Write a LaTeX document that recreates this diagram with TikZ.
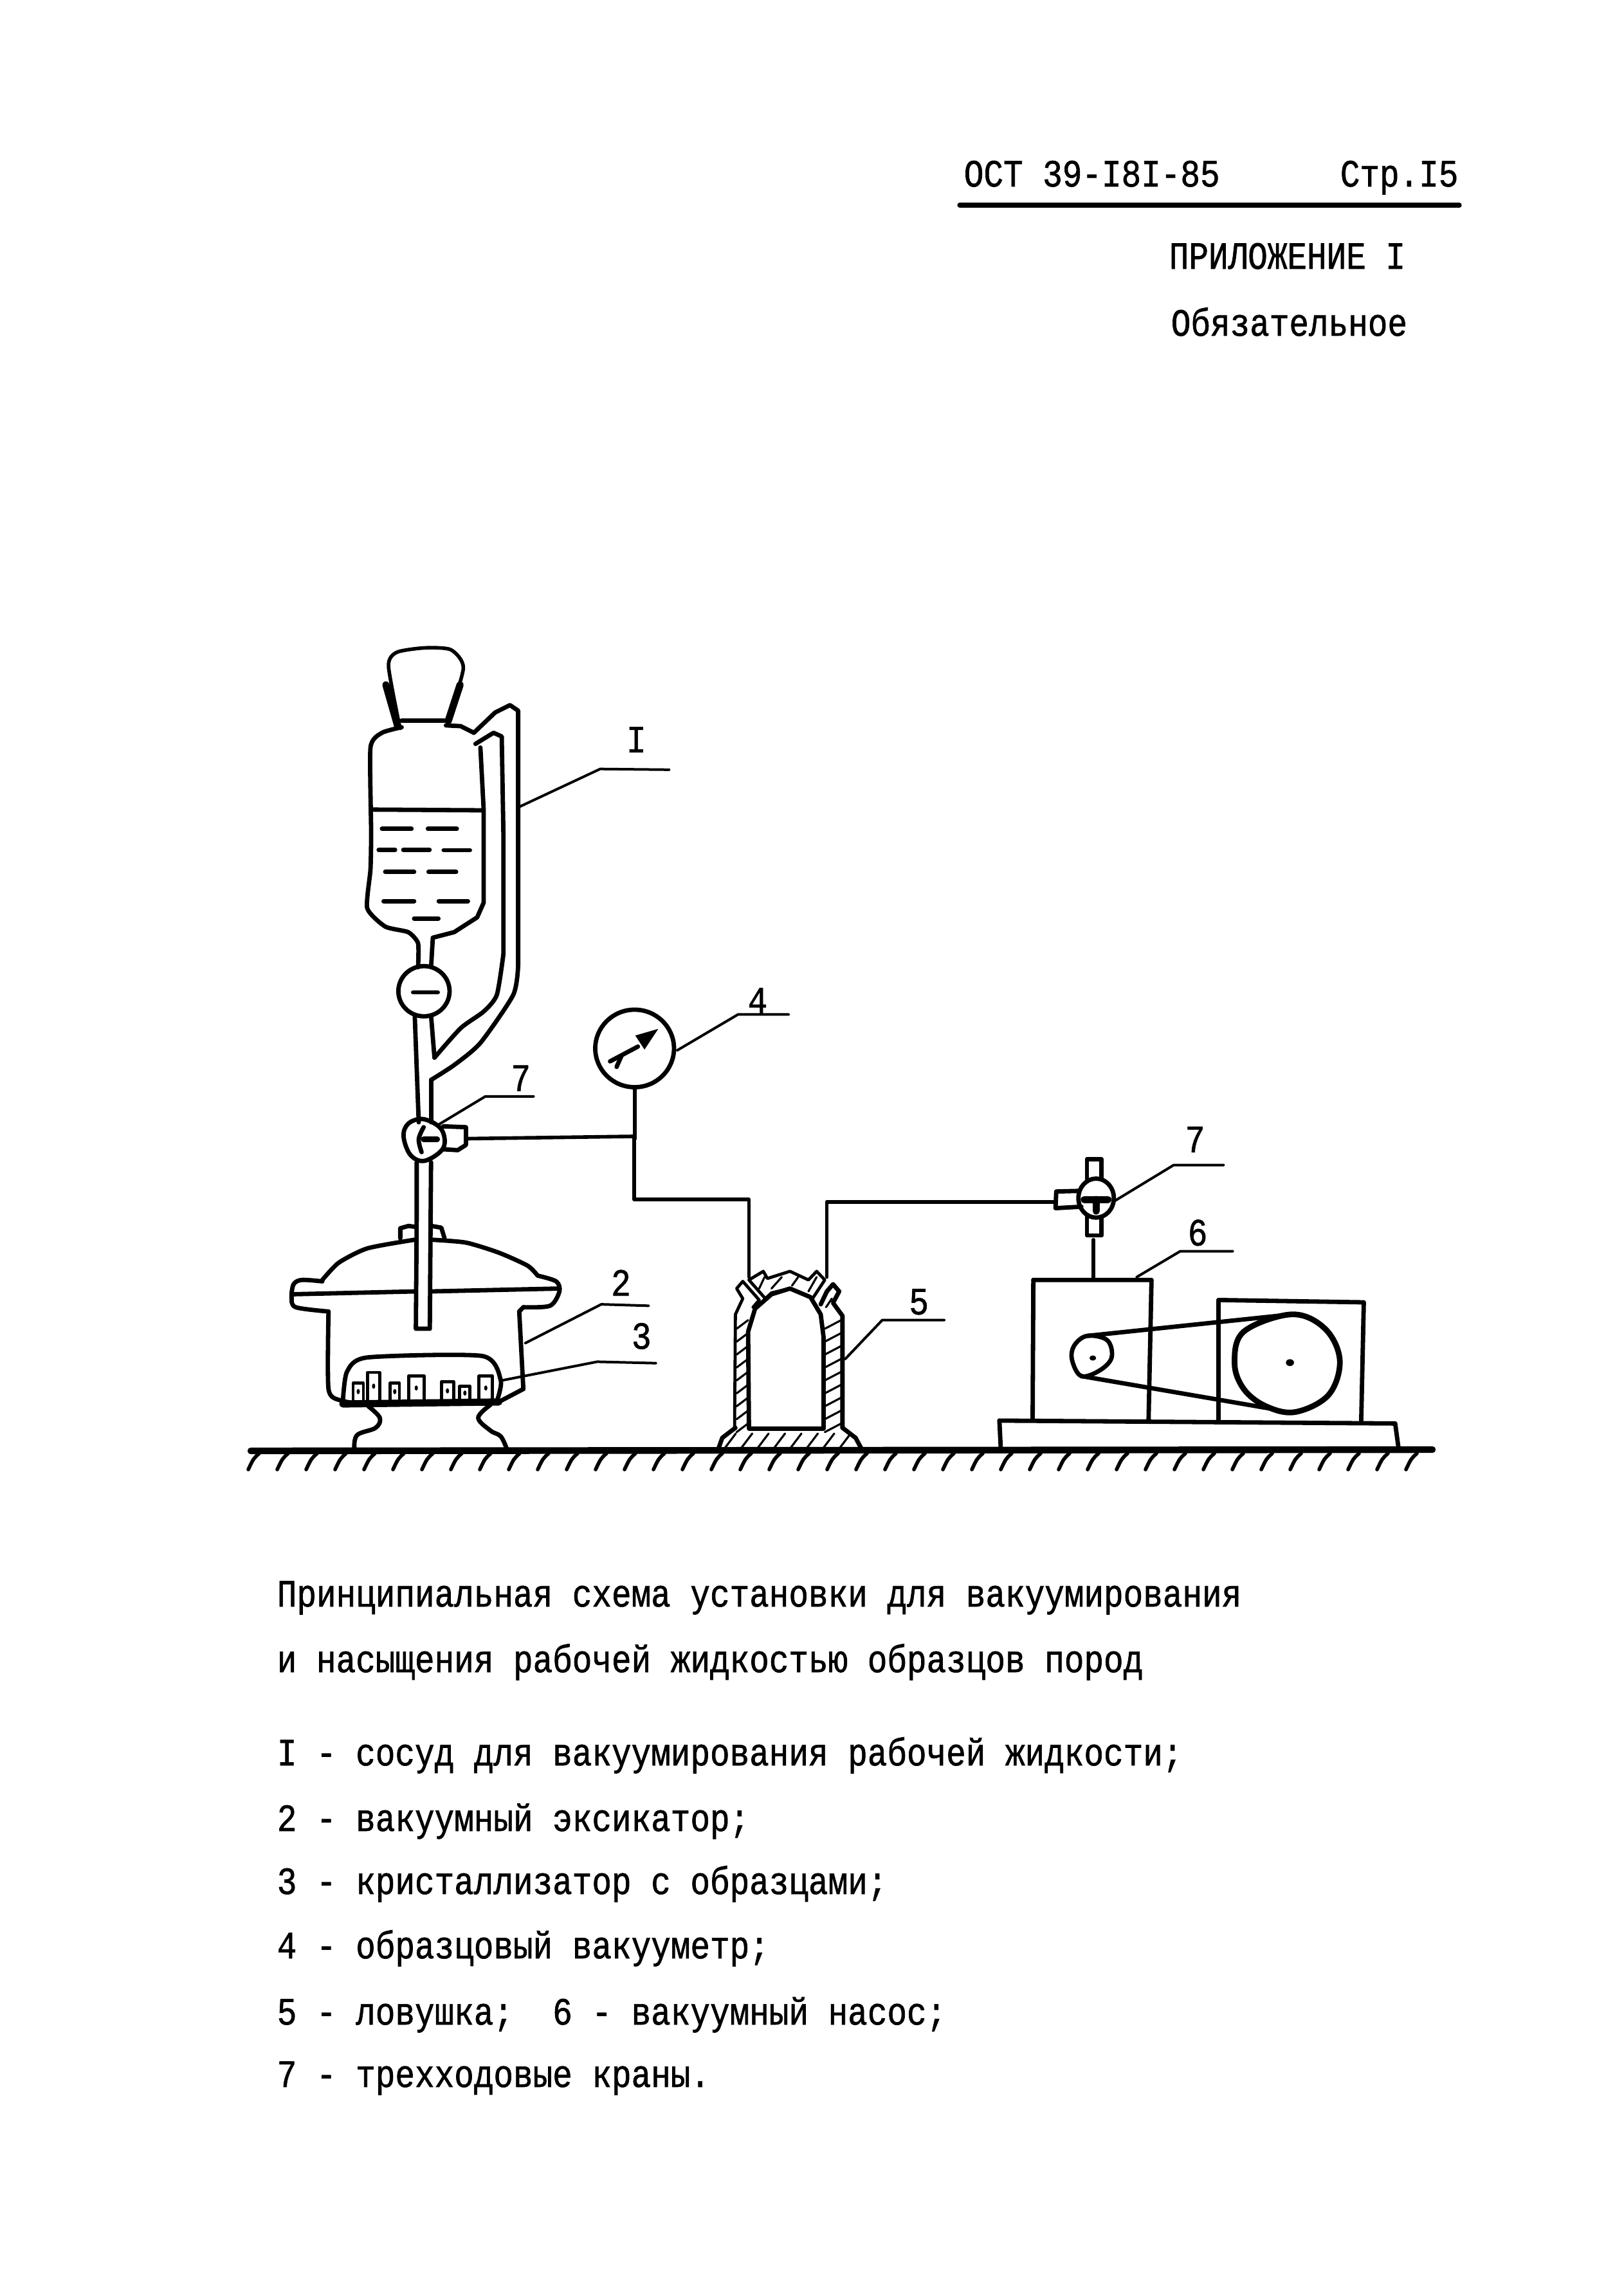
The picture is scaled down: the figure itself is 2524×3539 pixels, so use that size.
\documentclass[tikz,border=0pt]{standalone}
\usepackage{fontspec}
\newfontfamily\tw[FakeStretch=0.85,FakeBold=1.1]{Liberation Mono}
\tikzset{
 zA/.style={shift={(400,950)},x=0.12755pt,y=-0.14351pt},
 zB/.style={shift={(380,1700)},x=0.15944pt,y=-0.11161pt},
 zC/.style={shift={(1400,1700)},x=0.14351pt,y=-0.11161pt},
 pen/.style={draw=black,line width=1.7pt,line join=round,line cap=round},
 pipe/.style={pen,line width=1.4pt},
 lead/.style={pen,line width=1pt},
 hatchline/.style={pen,line width=0.8pt},
 heavy/.style={pen,line width=2.8pt},
 txt/.style={font=\tw\fontsize{15}{17}\selectfont,anchor=base west,inner sep=0pt,text=black},
 lab/.style={font=\tw\fontsize{15}{17}\selectfont,anchor=base,inner sep=0pt,text=black},
}
\begin{document}
\begin{tikzpicture}[x=0.25pt,y=-0.25pt]
\fill[white] (0,0) rectangle (2524,3539);
\useasboundingbox (0,0) rectangle (2524,3539);
% header
\node[txt] (h1) at (1498,290) {ОСТ 39-I8I-85};
\node[txt] (h2) at (2083,290) {Стр.I5};
\coordinate (rl) at (1492,319); \coordinate (rr) at (2269,319);
\draw[pen,line width=1.8pt] (rl) -- (rr);
\node[txt] (h3) at (1817,418) {ПРИЛОЖЕНИЕ I};
\node[txt] (h4) at (1820,522) {Обязательное};
% caption and legend
\node[txt] (c1) at (430,2498) {Принципиальная схема установки для вакуумирования};
\node[txt] (c2) at (430,2600) {и насыщения рабочей жидкостью образцов пород};
\node[txt] (l1) at (430,2745) {I - сосуд для вакуумирования рабочей жидкости;};
\node[txt] (l2) at (430,2847) {2 - вакуумный эксикатор;};
\node[txt] (l3) at (430,2945) {3 - кристаллизатор с образцами;};
\node[txt] (l4) at (430,3045) {4 - образцовый вакууметр;};
\node[txt] (l5) at (430,3148) {5 - ловушка;\ \ 6 - вакуумный насос;};
\node[txt] (l7) at (430,3245) {7 - трехходовые краны.};
% ground
\coordinate (gl) at (390,2256); \coordinate (gr) at (2227,2254);
\draw[pen,line width=2.6pt] (gl) -- (gr);
\foreach \x in {386,431,...,2220} \draw[pen,line width=1.4pt] (\x+17,2260) .. controls (\x+8,2268) .. (\x,2285);
% ---- vessel
\begin{scope}[zA]
\draw[pen,line width=1.4pt] plot[smooth,tension=.4] coordinates {(435,318)(400,150)(425,112)(510,100)(590,105)(628,155)(580,300)};
\draw[heavy] (392,200) -- (428,312);
\draw[heavy] (618,200) -- (582,298);
\draw[pen] (440,297) -- (570,297);
\draw[pen] plot[smooth,tension=.35] coordinates {(440,315)(380,330)(345,370)(347,600)(345,700)(335,805)(390,855)(460,870)(490,900)(490,965)};
\draw[pen] (575,310) -- (620,312) -- (660,330) -- (725,275) -- (770,255) -- (795,270) -- (795,960);
\draw[pen] plot[smooth,tension=.4] coordinates {(795,960)(780,1040)(680,1170)(600,1230)(530,1270)};
\draw[pen] (530,1270) -- (530,1385);
\draw[pen] (665,360) -- (720,330) -- (745,340) -- (750,600) -- (750,930);
\draw[pen] plot[smooth,tension=.4] coordinates {(750,930)(730,1040)(690,1085)(620,1130)(540,1210)};
\draw[pen] (540,1210) -- (530,1100);
\draw[pen] (680,370) -- (690,540) -- (690,790) -- (670,830) -- (600,870) -- (535,885) -- (530,960);
\draw[pen] (350,538) -- (685,540);
\foreach \a/\b/\y in {380/470/590,520/608/590,370/420/647,445/525/647,568/648/648,390/478/707,522/606/707,385/478/786,553/642/786,478/552/833}
  \draw[pen] (\a,\y) -- (\b,\y);
\draw[pen] (508,1030) ellipse [x radius=78,y radius=68];
\draw[pen] (475,1033) -- (550,1033);
\draw[pen] (480,1098) -- (492,1385);
\coordinate (j4) at (1150,1292);
\draw[pen] (1150,1185) ellipse [x radius=120,y radius=105];
\draw[pipe] (j4) -- (1150,1430);
\draw[pen] (1075,1220) -- (1160,1180);
\draw[pen] (1095,1235) -- (1110,1205);
\fill[black] (1222,1132) -- (1180,1188) -- (1152,1150) -- cycle;
% leaders
\node[lab] (nI) at (1155,383) {I};
\coordinate (nIa) at (800,530); \coordinate (nIb) at (1045,428); \coordinate (nIc) at (1255,430);
\draw[lead] (nIa) -- (nIb) -- (nIc);
\node[lab] (n4) at (1525,1090) {4};
\coordinate (n4a) at (1280,1190); \coordinate (n4b) at (1465,1093); \coordinate (n4c) at (1619,1093);
\draw[lead] (n4a) -- (n4b) -- (n4c);
\node[lab] (n7) at (803,1300) {7};
\coordinate (n7a) at (555,1390); \coordinate (n7b) at (695,1315); \coordinate (n7c) at (842,1315);
\draw[lead] (n7a) -- (n7b) -- (n7c);
\end{scope}
% ---- cock, desiccator, trap
\begin{scope}[zB]
\draw[pen] plot[smooth cycle,tension=.6] coordinates {(437,90)(480,125)(485,190)(440,235)(405,215)(388,150)(400,105)};
\draw[pen] (485,115) -- (540,118) -- (540,180) -- (520,198) -- (485,195);
\coordinate (p0) at (540,158); \coordinate (j1) at (950,150);
\draw[pipe] (p0) -- (j1);
\draw[pipe] (j1) -- (950,370) -- (1230,370) -- (1230,640);
\draw[pen] plot[smooth,tension=.6] coordinates {(437,118)(425,160)(432,205)};
\draw[pen,line width=2.2pt] (437,160) -- (470,160);
\draw[pen] (420,240) -- (420,440) -- (418,820) -- (452,820) -- (455,240);
\draw[pen] (380,505) -- (380,470) -- (400,462) -- (416,465);
\draw[pen] (456,462) -- (480,468) -- (488,505);
\draw[pen] plot[smooth,tension=.4] coordinates {(190,650)(230,590)(300,540)(415,510)};
\draw[pen] plot[smooth,tension=.4] coordinates {(456,510)(540,520)(620,555)(690,600)(715,635)};
\draw[pen] plot[smooth,tension=.5] coordinates {(190,655)(140,650)(120,665)(115,710)(125,745)(205,760)};
\draw[pen] plot[smooth,tension=.5] coordinates {(715,635)(760,655)(768,690)(745,740)(680,745)};
\draw[pen] (680,745) -- (670,760);
\draw[pen] (115,700) -- (418,690);
\draw[pen] (456,690) -- (768,680);
\draw[pen] plot[smooth,tension=.4] coordinates {(205,760)(205,1030)(235,1070)(300,1085)};
\draw[pen] (670,760) -- (680,1030);
\draw[heavy] (240,1082) -- (620,1075);
\draw[pen] (620,1075) -- (680,1030);
\draw[pen] plot[smooth,tension=.6] coordinates {(302,1090)(330,1130)(320,1165)(275,1190)(268,1235)};
\draw[pen] plot[smooth,tension=.6] coordinates {(600,1085)(570,1130)(600,1175)(625,1195)(640,1240)};
\draw[pen] plot[smooth,tension=.4] coordinates {(240,1075)(250,970)(300,920)(580,915)(625,1000)(615,1075)};
\foreach \a/\b/\t in {265/290/1010,300/330/972,355/378/1010,400/438/985,480/510/1005,525/550/1020,572/605/985}{
  \draw[pen,line width=1.2pt] (\a,1068) -- (\a,\t) -- (\b,\t) -- (\b,1068);
  \fill[black] ({(\a+\b)/2},{(\t+1068)/2}) circle [x radius=4,y radius=9];
}
% trap
\draw[pen] (1230,1168) -- (1228,830) -- (1245,750) -- (1285,700) -- (1330,680) -- (1380,710) -- (1405,770) -- (1412,850) -- (1412,1168) -- cycle;
\draw[pen,line width=1.2pt] (1195,1165) -- (1197,770) -- (1215,715) -- (1200,680) -- (1215,655) -- (1255,720) -- (1240,745);
\draw[pen] (1405,735) -- (1420,690) -- (1435,665) -- (1450,690) -- (1435,730) -- (1458,775) -- (1458,1165);
\draw[pen,line width=1.2pt] (1230,650) -- (1265,620) -- (1275,645) -- (1330,620) -- (1375,650) -- (1395,620) -- (1415,650) -- (1385,715) -- (1330,680) -- (1285,695) -- (1270,715) -- cycle;
\draw[pen] (1155,1240) -- (1165,1200) -- (1197,1165);
\draw[pen] (1458,1165) -- (1490,1200) -- (1505,1240);
\foreach \y in {790,835,...,1150} {
  \draw[hatchline] (1200,\y+30) -- (1228,\y);
  \draw[hatchline] (1415,\y+30) -- (1455,\y);
}
\foreach \x in {1170,1210,...,1480} \draw[hatchline] (\x,1238) -- (\x+28,1185);
\draw[hatchline] (1255,680) -- (1268,640);
\draw[hatchline] (1285,680) -- (1310,640);
\draw[hatchline] (1335,670) -- (1350,640);
\draw[hatchline] (1375,690) -- (1395,640);
\draw[hatchline] (1418,745) -- (1432,715);
% pipeline to right cock
\coordinate (k0) at (1420,640); \coordinate (k1) at (1977,378);
\draw[pipe] (k0) -- (1420,378) -- (k1);
% leaders
\node[lab] (n2) at (918,705) {2};
\coordinate (n2a) at (685,870); \coordinate (n2b) at (870,735); \coordinate (n2c) at (985,740);
\draw[lead] (n2a) -- (n2b) -- (n2c);
\node[lab] (n3) at (968,890) {3};
\coordinate (n3a) at (628,1000); \coordinate (n3b) at (860,935); \coordinate (n3c) at (1003,940);
\draw[lead] (n3a) -- (n3b) -- (n3c);
\coordinate (n5a) at (1465,925); \coordinate (n5b) at (1555,790); \coordinate (n5c) at (1706,790);
\draw[lead] (n5a) -- (n5b) -- (n5c);
\end{scope}
% ---- pump
\begin{scope}[zC]
\node[lab] (n5) at (50,770) {5};
\draw[pen] (530,365) ellipse [x radius=48,y radius=68];
\draw[pen] (505,298) -- (505,230) -- (545,230) -- (545,298);
\draw[pen] (505,430) -- (505,495) -- (545,495) -- (545,430);
\draw[pen] (482,340) -- (422,342) -- (420,400) -- (490,395);
\draw[heavy] (498,370) -- (562,370);
\draw[heavy] (530,370) -- (530,410);
\coordinate (st) at (523,510); \coordinate (sb) at (523,645);
\draw[pipe] (st) -- (sb);
\draw[pen] (360,650) -- (680,650) -- (672,1140);
\draw[pen] (360,650) -- (358,1135);
\draw[pen] (862,720) -- (1255,728) -- (1248,1140);
\draw[pen] (862,720) -- (862,1145);
\draw[pen] (268,1140) -- (1340,1150) -- (1350,1245);
\draw[pen] (268,1140) -- (272,1245);
\draw[pen] plot[smooth cycle,tension=.6] coordinates {(505,845)(470,880)(465,930)(490,985)(540,965)(572,920)(560,860)};
\draw[pen] (505,845) -- (1060,770);
\draw[pen] (490,985) -- (1010,1100);
\draw[pen,line width=2.2pt] plot[smooth cycle,tension=.6] coordinates {(1060,770)(1150,820)(1190,930)(1160,1050)(1070,1110)(990,1090)(930,1030)(905,940)(930,830)};
\fill[black] (521,922) circle [x radius=9,y radius=9];
\fill[black] (1055,938) circle [x radius=11,y radius=12];
\node[lab] (n7r) at (798,205) {7};
\coordinate (m7a) at (580,375); \coordinate (m7b) at (740,250); \coordinate (m7c) at (875,250);
\draw[lead] (m7a) -- (m7b) -- (m7c);
\node[lab] (n6) at (805,530) {6};
\coordinate (n6a) at (640,640); \coordinate (n6b) at (758,550); \coordinate (n6c) at (900,550);
\draw[lead] (n6a) -- (n6b) -- (n6c);
\end{scope}
\end{tikzpicture}
\end{document}
